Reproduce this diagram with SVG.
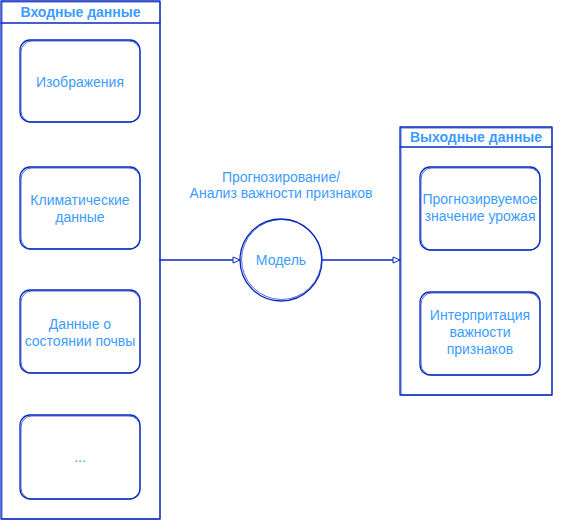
<svg xmlns="http://www.w3.org/2000/svg" width="561" height="521" viewBox="0 0 561 521">
<style>
.s{fill:none;stroke:#0a2bc0;stroke-width:1.3;stroke-linejoin:round;stroke-linecap:round}
.s2{fill:none;stroke:#0a2bc0;stroke-width:1;opacity:0.7}
.t{font-family:"Liberation Sans",Arial,sans-serif;font-size:14px;fill:#3d9cff;text-anchor:middle}
.h{font-family:"Liberation Sans",Arial,sans-serif;font-size:14px;font-weight:bold;fill:#3d9cff;text-anchor:middle}
</style>
<defs>
<marker id="ah" markerWidth="10" markerHeight="10" refX="8" refY="4" orient="auto" markerUnits="userSpaceOnUse">
<path d="M1,1 L8,4 L1,7 Z" fill="#fff" stroke="#0a2bc0" stroke-width="1"/>
</marker>
</defs>
<rect width="561" height="521" fill="#fff"/>

<g id="input">
<rect class="s" x="1" y="1" width="159" height="518"/>
<rect class="s2" x="2" y="2" width="158" height="517"/>
<line class="s" x1="1" y1="23" x2="160" y2="23"/>
<text class="h" x="80.5" y="17">Входные данные</text>
</g>
<g id="n-img">
<rect class="s" x="20" y="40" width="120" height="82" rx="10"/>
<rect class="s2" x="21" y="41" width="119" height="81" rx="11"/>
<text class="t" x="80" y="87">Изображения</text>
</g>
<g id="n-climate">
<rect class="s" x="20" y="167" width="120" height="82" rx="10"/>
<rect class="s2" x="21" y="168" width="119" height="81" rx="11"/>
<text class="t" x="80" y="205">Климатические</text>
<text class="t" x="80" y="222">данные</text>
</g>
<g id="n-soil">
<rect class="s" x="20" y="290" width="120" height="83" rx="10"/>
<rect class="s2" x="21" y="291" width="119" height="82" rx="11"/>
<text class="t" x="80" y="329">Данные о</text>
<text class="t" x="80" y="346">состоянии почвы</text>
</g>
<g id="n-etc">
<rect class="s" x="20" y="415" width="120" height="84" rx="10"/>
<rect class="s2" x="21" y="416" width="119" height="83" rx="11"/>
<text class="t" x="80" y="462">...</text>
</g>

<g id="model">
<circle class="s" cx="281" cy="260" r="41"/>
<circle class="s2" cx="281.5" cy="259.5" r="40"/>
<text class="t" x="281" y="265">Модель</text>
</g>
<text class="t" x="281" y="182">Прогнозирование/</text>
<text class="t" x="281" y="198">Анализ важности признаков</text>

<g id="output">
<rect class="s" x="400" y="127" width="152" height="268"/>
<rect class="s2" x="401" y="128" width="151" height="267"/>
<line class="s" x1="400" y1="147" x2="552" y2="147"/>
<text class="h" x="476" y="142">Выходные данные</text>
</g>
<g id="n-yield">
<rect class="s" x="420" y="167" width="120" height="83" rx="10"/>
<rect class="s2" x="421" y="168" width="119" height="82" rx="11"/>
<text class="t" x="480" y="204">Прогнозирвуемое</text>
<text class="t" x="480" y="221">значение урожая</text>
</g>
<g id="n-interp">
<rect class="s" x="420" y="292" width="120" height="83" rx="10"/>
<rect class="s2" x="421" y="293" width="119" height="82" rx="11"/>
<text class="t" x="480" y="320">Интерпритация</text>
<text class="t" x="480" y="337">важности</text>
<text class="t" x="480" y="354">признаков</text>
</g>

<g id="connectors">
<path class="s" d="M160,260 L240,260" marker-end="url(#ah)"/>
<path class="s" d="M322,260 L400,260" marker-end="url(#ah)"/>
</g>
</svg>
